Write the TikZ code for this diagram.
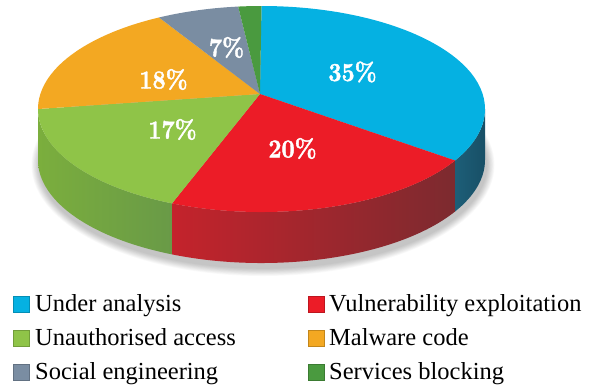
\documentclass[tikz,border=0pt]{standalone}
\usepackage{fontspec}
\newfontfamily\legendfont{Liberation Serif}
\newfontfamily\pctfont{lmroman10-bold.otf}[FakeBold=1.6]
\usetikzlibrary{calc}

\definecolor{cBlue}{HTML}{05B1E2}
\definecolor{cRed}{HTML}{EC1C27}
\definecolor{cGreen}{HTML}{8FC448}
\definecolor{cOrange}{HTML}{F3A822}
\definecolor{cGray}{HTML}{7A8DA2}
\definecolor{cDark}{HTML}{4A9A3F}
\definecolor{sBlueA}{HTML}{1D5E78}
\definecolor{sBlueB}{HTML}{184F66}
\definecolor{sRedA}{HTML}{C4232C}
\definecolor{sRedB}{HTML}{7C2A2F}
\definecolor{sGreenA}{HTML}{7BAE3D}
\definecolor{sGreenB}{HTML}{699A47}

% pie geometry (top ellipse, apex, depth of the rim)
\def\cx{261.5}
\def\cy{-109}
\def\rx{223.5}
\def\ry{103}
\def\dep{51}

% one slice of the top face, between parametric angles #1 and #2
\newcommand\pietop[3]{%
  \fill[#3] (260,-94) -- ({\cx+\rx*cos(#1)},{\cy+\ry*sin(#1)})
    arc[start angle=#1,end angle=#2,x radius=\rx,y radius=\ry] -- cycle;}
% one piece of the visible rim, between parametric angles #1 and #2
\newcommand\pierim[3]{%
  \path[#3] ({\cx+\rx*cos(#1)},{\cy+\ry*sin(#1)})
    arc[start angle=#1,end angle=#2,x radius=\rx,y radius=\ry]
    -- ++(0,-\dep)
    arc[start angle=#2,end angle=#1,x radius=\rx,y radius=\ry] -- cycle;}

\tikzset{
  pct/.style={text=white,inner sep=0pt,
    font=\pctfont\fontsize{26}{26}\selectfont},
  legsq/.style={minimum size=16.5pt,inner sep=0pt,draw=#1!80!black,
    line width=0.4pt,fill=#1},
  legtext/.style={anchor=base west,inner sep=0pt,
    font=\legendfont\fontsize{24.5}{26}\selectfont},
}

\begin{document}
\begin{tikzpicture}[x=1pt,y=1pt]
\useasboundingbox (0,0) rectangle (591,-384);
\fill[white] (0,0) rectangle (591,-384);

% soft shadow under the pie
\foreach \i in {1,...,10}{
  \fill[black,opacity=0.025] (263,-165) ellipse[x radius={\rx+0.8*\i},y radius={\ry+0.8*\i}];
}

% rim
\pierim{-180}{-113.6}{left color=sGreenA,right color=sGreenB}
\pierim{-113.6}{-30}{left color=sRedA,right color=sRedB}
\pierim{-30}{0}{left color=sBlueA,right color=sBlueB}

% top face
\pietop{90}{-30}{cBlue}
\pietop{-30}{-113.6}{cRed}
\pietop{-113.6}{-180}{cGreen}
\pietop{180}{117.3}{cOrange}
\pietop{117.3}{96}{cGray}
\pietop{96}{90}{cDark}

% percentages
\node[pct] (p35) at (352.5,-72) {\scalebox{0.88}[1]{35\%}};
\node[pct] (p20) at (292.5,-148.5) {\scalebox{0.88}[1]{20\%}};
\node[pct] (p17) at (172.5,-129.5) {\scalebox{0.88}[1]{17\%}};
\node[pct] (p18) at (163.5,-79.5) {\scalebox{0.88}[1]{18\%}};
\node[pct] (p7) at (226.5,-47.5) {\scalebox{0.88}[1]{7\%}};

% legend
\node[legsq=cBlue] (s1) at (21,-304) {};
\node[legtext] (l1) at (35,-311) {Under analysis};
\node[legsq=cGreen] (s2) at (21,-338) {};
\node[legtext] (l2) at (35,-345) {Unauthorised access};
\node[legsq=cGray] (s3) at (21,-372) {};
\node[legtext] (l3) at (35,-379) {Social engineering};
\node[legsq=cRed] (s4) at (316,-304) {};
\node[legtext] (l4) at (329,-311) {Vulnerability exploitation};
\node[legsq=cOrange] (s5) at (316,-338) {};
\node[legtext] (l5) at (329,-345) {Malware code};
\node[legsq=cDark] (s6) at (316,-372) {};
\node[legtext] (l6) at (329,-379) {Services blocking};
\end{tikzpicture}
\end{document}
